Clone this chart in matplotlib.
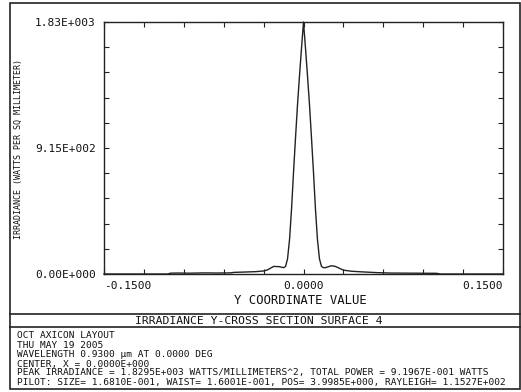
import matplotlib
matplotlib.use("Agg")
import matplotlib.pyplot as plt
from matplotlib.patches import Rectangle
from matplotlib.lines import Line2D

# ---- data ----
y_coord = [-0.150, -0.102, -0.100, -0.095, -0.085, -0.075, -0.065, -0.055, -0.052,
           -0.045, -0.036, -0.030, -0.027, -0.0225, -0.018, -0.015, -0.0135, -0.012,
           -0.0105, -0.009, -0.0075, -0.006, -0.0045, -0.003, -0.0015, 0.0,
           0.0015, 0.003, 0.0045, 0.006, 0.0075, 0.009, 0.0105, 0.012, 0.0135,
           0.015, 0.0165, 0.021, 0.024, 0.030, 0.036, 0.045, 0.055, 0.065, 0.080,
           0.100, 0.103, 0.150]
irradiance = [0, 0, 6, 7, 6, 8, 7, 8, 12,
              14, 17, 22, 30, 55, 53, 46, 55, 110,
              250, 470, 740, 990, 1230, 1440, 1640, 1829.5,
              1640, 1440, 1230, 990, 740, 470, 250, 110, 55,
              46, 46, 60, 55, 28, 20, 15, 10, 7, 6,
              5, 0, 0]

x_ticks = [-0.15 + 0.03 * i for i in range(11)]
x_tick_labels = ["-0.1500", "", "", "", "", "0.0000", "", "", "", "", "0.1500"]
y_ticks = [183 * i for i in range(11)]
y_tick_labels = ["0.00E+000", "", "", "", "", "9.15E+002", "", "", "", "", "1.83E+003"]

title = "IRRADIANCE Y-CROSS SECTION SURFACE 4"
x_label = "Y COORDINATE VALUE"
y_label = "IRRADIANCE (WATTS PER SQ MILLIMETER)"
info_lines = [
    "OCT AXICON LAYOUT",
    "THU MAY 19 2005",
    "WAVELENGTH 0.9300 \u00b5m AT 0.0000 DEG",
    "CENTER, X = 0.0000E+000",
    "PEAK IRRADIANCE = 1.8295E+003 WATTS/MILLIMETERS^2, TOTAL POWER = 9.1967E-001 WATTS",
    "PILOT: SIZE= 1.6810E-001, WAIST= 1.6001E-001, POS= 3.9985E+000, RAYLEIGH= 1.1527E+002",
]

W, H = 521, 392
fig = plt.figure(figsize=(W / 100, H / 100), dpi=100)
fig.patch.set_facecolor("white")
mono = "DejaVu Sans Mono"

def fx(px):
    return px / W

def fy(py):
    return 1 - py / H

ax = fig.add_axes([fx(104), fy(274), fx(503) - fx(104), fy(22) - fy(274)])
ax.plot(y_coord, irradiance, color="#222222", lw=1.0, clip_on=False)
ax.set_xlim(-0.15, 0.15)
ax.set_ylim(0, 1830)
ax.set_xticks(x_ticks)
ax.set_xticklabels(x_tick_labels, fontfamily=mono, fontsize=8)
ax.set_yticks(y_ticks)
ax.set_yticklabels(y_tick_labels, fontfamily=mono, fontsize=8)
ax.tick_params(direction="in", length=3.5, width=0.8, top=True, right=True,
               color="#222222", labelcolor="#111111")
ax.tick_params(axis="x", pad=5)
ax.tick_params(axis="y", pad=6)
xl = ax.get_xticklabels()
xl[0].set_ha("left")
xl[-1].set_ha("right")
for s in ax.spines.values():
    s.set_linewidth(1.0)
    s.set_color("#222222")

fig.text(fx(300), fy(300), x_label, ha="center", va="center",
         fontfamily=mono, fontsize=8.8, color="#111111")
fig.text(fx(18), fy(149), y_label, ha="center", va="center", rotation=90,
         fontfamily=mono, fontsize=6.0, color="#111111")

# outer frame and title box
fig.add_artist(Rectangle((fx(9.5), fy(389)), fx(519.5) - fx(9.5), fy(3) - fy(389),
                         transform=fig.transFigure, fill=False, lw=1.2, ec="#222222"))
for yy in (314, 327):
    fig.add_artist(Line2D([fx(9.5), fx(519.5)], [fy(yy), fy(yy)],
                          transform=fig.transFigure, lw=1.2, color="#222222"))
fig.text(fx(259), fy(320.5), title, ha="center", va="center",
         fontfamily=mono, fontsize=8.2, color="#111111")

line_y = [335, 345, 354.5, 364, 373, 382.5]
for txt, yy in zip(info_lines, line_y):
    fig.text(fx(17), fy(yy), txt, ha="left", va="center",
             fontfamily=mono, fontsize=6.8, color="#111111")

fig.savefig("out.png", dpi=100, facecolor="white")
